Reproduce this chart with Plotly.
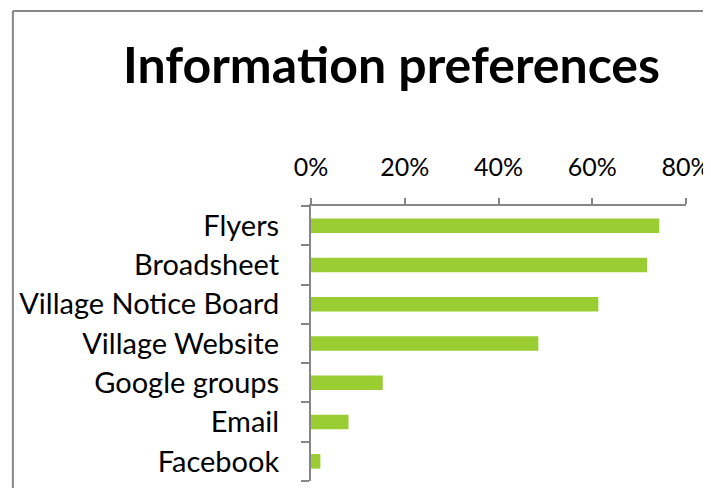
import plotly.graph_objects as go

categories = ["Flyers", "Broadsheet", "Village Notice Board", "Village Website",
              "Google groups", "Email", "Facebook"]
shares = [74.3, 71.7, 61.3, 48.5, 15.3, 8.0, 2.0]
tick_values = [0, 20, 40, 60, 80]
tick_labels = [f"{v}%" for v in tick_values]

BAR_COLOR = "#9ACD32"
AXIS_GRAY = "#868686"
FONT = "Lato, 'Open Sans', sans-serif"

# the page body adds 8px around the figure: size and margins account for it
fig = go.Figure(
    go.Bar(
        x=shares,
        y=categories,
        orientation="h",
        marker=dict(color=BAR_COLOR, line=dict(width=0)),
        hovertemplate="%{y}: %{x:.0f}%<extra></extra>",
    )
)

fig.update_layout(
    width=703,
    height=480,
    paper_bgcolor="white",
    plot_bgcolor="white",
    font=dict(family=FONT, color="#000000", size=24),
    margin=dict(l=303, r=25, t=198, b=7, autoexpand=False),
    bargap=0.63,
    showlegend=False,
    title=dict(
        # ZWNJ keeps Lato from drawing the "ti" ligature
        text="<b>Informa\u200ction preferences</b>",
        font=dict(family=FONT, size=50, color="#000000"),
        x=383.5 / 703,
        xanchor="center",
        xref="container",
        y=1 - 57 / 480,
        yref="container",
        yanchor="middle",
    ),
    # chart-area border (left and top edges visible in the crop)
    shapes=[
        dict(type="line", xref="paper", yref="paper",
             x0=-0.795, x1=-0.795, y0=-0.5, y1=1.709,
             line=dict(color=AXIS_GRAY, width=2)),
        dict(type="line", xref="paper", yref="paper",
             x0=-0.795, x1=1.5, y0=1.709, y1=1.709,
             line=dict(color=AXIS_GRAY, width=2)),
    ],
)

fig.update_xaxes(
    side="top",
    range=[0, 80],
    tickmode="array",
    tickvals=tick_values,
    ticktext=tick_labels,
    showgrid=False,
    zeroline=False,
    showline=True,
    linecolor=AXIS_GRAY,
    linewidth=2,
    ticks="outside",
    ticklen=6,
    tickwidth=2,
    tickcolor=AXIS_GRAY,
    tickfont=dict(size=25),
    ticklabelstandoff=12,
)

fig.update_yaxes(
    categoryorder="array",
    categoryarray=categories[::-1],
    showgrid=False,
    showline=True,
    linecolor=AXIS_GRAY,
    linewidth=2,
    ticks="outside",
    tickson="boundaries",
    ticklen=8,
    tickwidth=2,
    tickcolor=AXIS_GRAY,
    tickfont=dict(size=29),
    ticklabelstandoff=24,
)

fig.write_html("out.html")
